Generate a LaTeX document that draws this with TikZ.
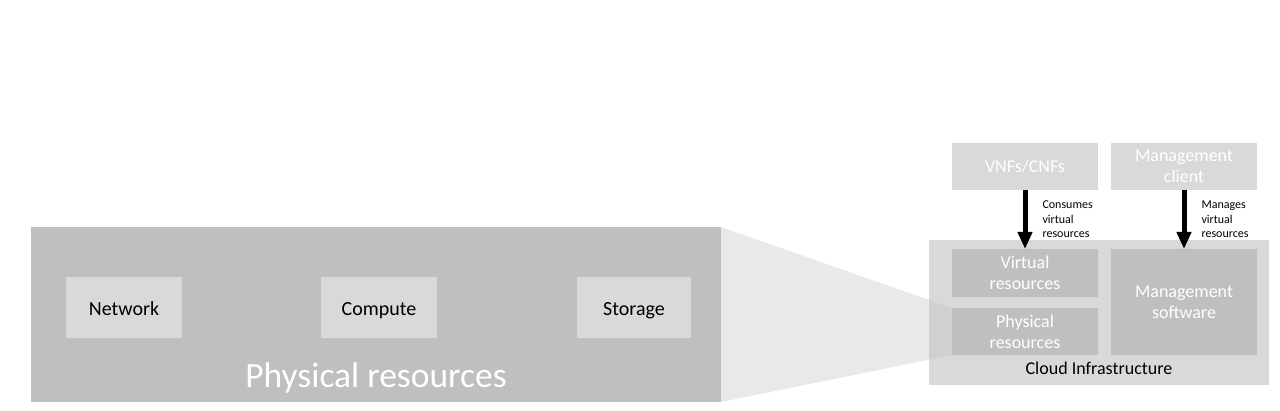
\documentclass[tikz,border=0pt]{standalone}
\usepackage{fontspec}
\setmainfont{Carlito}
\usepackage{tikz}
\usetikzlibrary{arrows.meta}
\definecolor{boxlight}{HTML}{D9D9D9}
\definecolor{boxdark}{HTML}{BFBFBF}
\tikzstyle{blk}=[inner sep=0pt,outer sep=0pt,align=center]
\tikzstyle{hwpart}=[blk,fill=boxlight,minimum height=61pt,text height=20pt,text depth=3.6pt,font=\fontsize{20}{24}\selectfont]
\tikzstyle{inbox}=[blk,fill=boxdark,text=white,minimum width=146pt,font=\fontsize{18}{21}\selectfont]
\tikzstyle{topbox}=[inbox,fill=boxlight,minimum height=47pt]
\tikzstyle{uses}=[line width=5pt,-{Triangle[length=17pt,width=14pt]}]
\tikzstyle{useslabel}=[inner sep=0pt,align=left,anchor=west,xshift=15pt,font=\fontsize{12}{14.5}\selectfont]
\begin{document}
\begin{tikzpicture}[x=1pt,y=-1pt]
	\useasboundingbox (0,0) rectangle (1280,411);
	% left: physical resources
	\node[blk,fill=boxdark,minimum width=690pt,minimum height=175pt] (phys) at (376,314.5) {};
	\node[hwpart,minimum width=116pt] (net)  at (124,307.5) {Network};
	\node[hwpart,minimum width=116pt] (comp) at (379,307.5) {Compute};
	\node[hwpart,minimum width=114pt] (stor) at (634,307.5) {Storage};
	\node[anchor=base,inner sep=0pt,text=white,font=\fontsize{35.5}{42}\selectfont] (physlbl) at (376,388) {Physical resources};
	% right: cloud infrastructure
	\node[blk,fill=boxlight,minimum width=340pt,minimum height=145pt] (cloud) at (1099,312.5) {};
	\node[anchor=base,inner sep=0pt,font=\fontsize{18}{21}\selectfont] (cloudlbl) at (1099,375) {Cloud Infrastructure};
	\node[inbox,minimum height=48pt] (virt) at (1025,273) {Virtual\\resources};
	\node[inbox,minimum height=47pt] (hw) at (1025,331.5) {Physical\\resources};
	\fill[boxdark,fill opacity=.34] (phys.north east) -- (hw.north west) -- (hw.south west) -- (phys.south east) -- cycle;
	\node[inbox,minimum height=106pt] (mgmt) at (1184,302) {Management\\software};
	\node[topbox] (vnf) at (1025,166.5) {VNFs/CNFs};
	\node[topbox] (client) at (1184,166.5) {Management\\client};
	\draw[uses] (vnf.south) -- node[useslabel] {Consumes\\virtual\\resources} (virt.north);
	\draw[uses] (client.south) -- node[useslabel] {Manages\\virtual\\resources} (mgmt.north);
\end{tikzpicture}
\end{document}
